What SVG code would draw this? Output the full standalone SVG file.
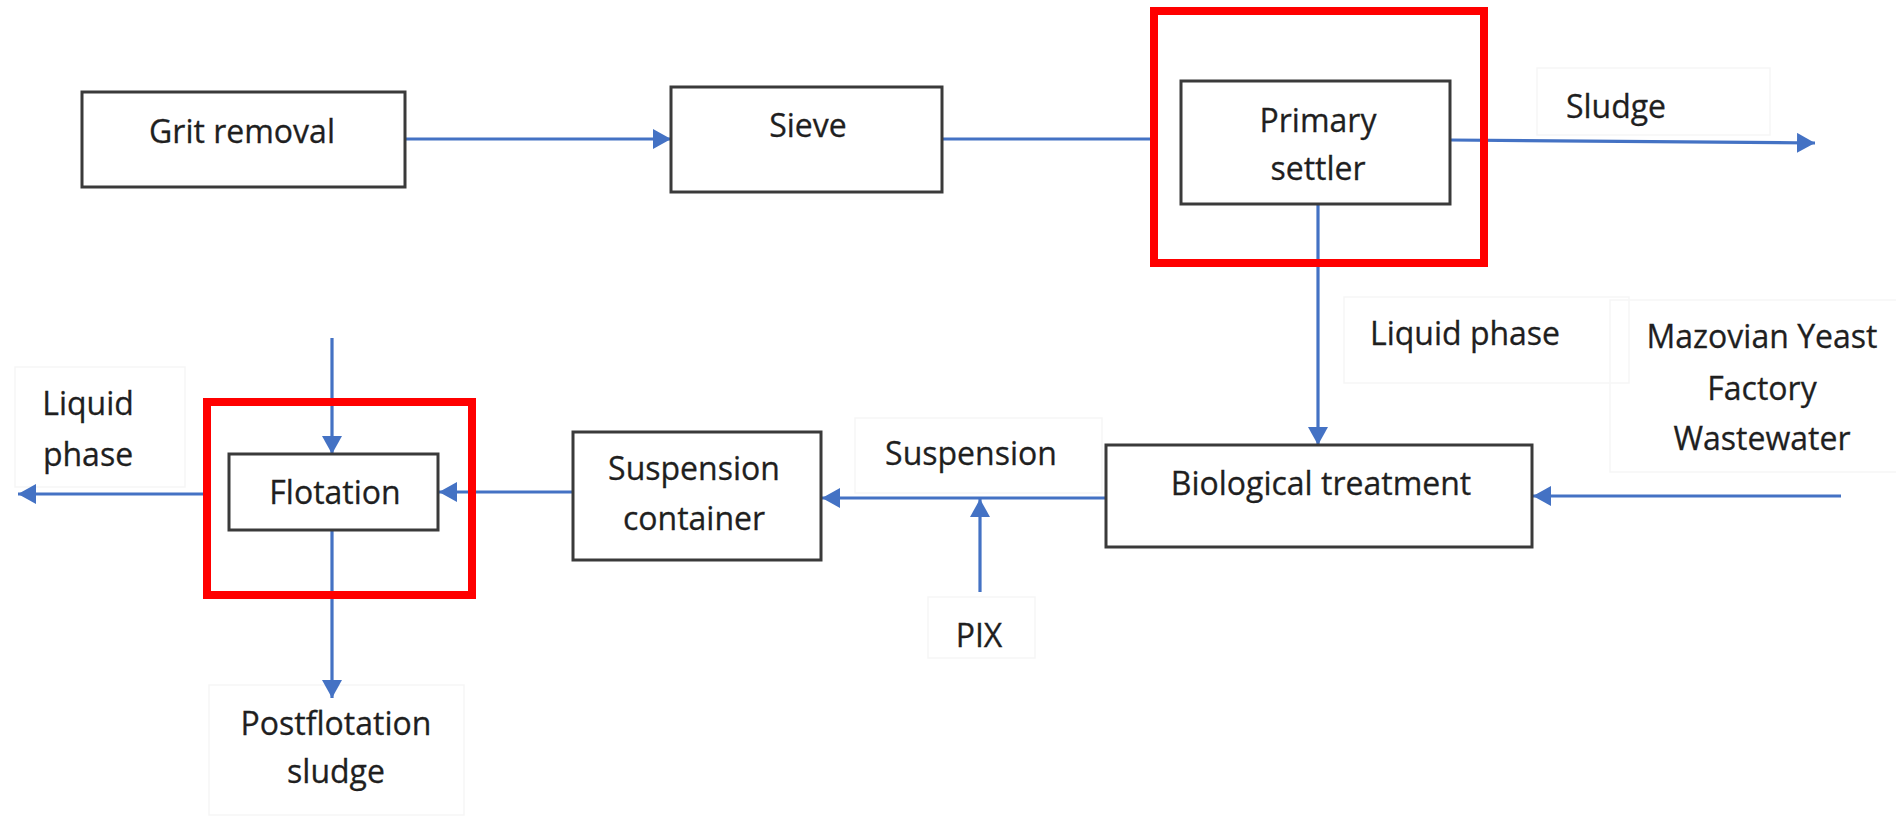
<svg xmlns="http://www.w3.org/2000/svg" width="1896" height="816" viewBox="0 0 1896 816">
  <style>
    .box { fill: #ffffff; stroke: #3a3a3a; stroke-width: 3; }
    .frame { fill: none; stroke: #ff0000; stroke-width: 8; }
    .label-box { fill: none; stroke: #f6f6f6; stroke-width: 1.5; }
    .flow { fill: none; stroke: #4472c4; stroke-width: 3.2; }
    .arrow { marker-end: url(#head); }
    text { font-family: "Open Sans", "Liberation Sans", sans-serif; font-size: 32px; fill: #1f1f1f; stroke: #1f1f1f; stroke-width: 0.3; text-anchor: middle; }
  </style>
  <defs>
    <marker id="head" viewBox="0 0 18 20" refX="18" refY="10" markerWidth="18" markerHeight="20" markerUnits="userSpaceOnUse" orient="auto">
      <path d="M0,0 L18,10 L0,20 Z" fill="#4472c4"/>
    </marker>
  </defs>

  <rect width="1896" height="816" fill="#ffffff"/>

  <!-- light outlines of the free-standing label text boxes -->
  <g id="label-boxes">
    <rect class="label-box" x="1537" y="68" width="233" height="67"/>
    <rect class="label-box" x="1344" y="297" width="285" height="86"/>
    <rect class="label-box" x="1610" y="300" width="290" height="172"/>
    <rect class="label-box" x="855" y="418" width="247" height="75"/>
    <rect class="label-box" x="928" y="597" width="107" height="61"/>
    <rect class="label-box" x="15" y="367" width="170" height="120"/>
    <rect class="label-box" x="209" y="685" width="255" height="130"/>
  </g>

  <!-- flow lines -->
  <g id="connectors">
    <path class="flow arrow" d="M405,139 L671,139"/>
    <path class="flow" d="M942,139 L1150,139"/>
    <path class="flow arrow" d="M1450,140 L1815,143"/>
    <path class="flow arrow" d="M1318,204 L1318,445"/>
    <path class="flow arrow" d="M1841,496 L1533,496"/>
    <path class="flow arrow" d="M1106,498 L822,498"/>
    <path class="flow arrow" d="M980,592 L980,499"/>
    <path class="flow arrow" d="M573,492 L439,492"/>
    <path class="flow arrow" d="M332,338 L332,454"/>
    <path class="flow arrow" d="M332,530 L332,698"/>
    <path class="flow arrow" d="M203,494 L18,494"/>
  </g>

  <g id="grit-removal">
    <rect class="box" x="82" y="92" width="323" height="95"/>
    <text x="242" y="143">Grit removal</text>
  </g>

  <g id="sieve">
    <rect class="box" x="671" y="87" width="271" height="105"/>
    <text x="808" y="137">Sieve</text>
  </g>

  <g id="primary-settler">
    <rect class="frame" x="1154" y="11" width="330" height="252"/>
    <rect class="box" x="1181" y="81" width="269" height="123"/>
    <text x="1318" y="132">Primary</text>
    <text x="1318" y="180">settler</text>
  </g>

  <g id="sludge">
    <text x="1616" y="118">Sludge</text>
  </g>

  <g id="liquid-phase-settler">
    <text x="1465" y="345">Liquid phase</text>
  </g>

  <g id="wastewater">
    <text x="1762" y="348">Mazovian Yeast</text>
    <text x="1762" y="400">Factory</text>
    <text x="1762" y="450">Wastewater</text>
  </g>

  <g id="biological-treatment">
    <rect class="box" x="1106" y="445" width="426" height="102"/>
    <text x="1321" y="495">Biological treatment</text>
  </g>

  <g id="suspension">
    <text x="971" y="465">Suspension</text>
  </g>

  <g id="pix">
    <text x="979" y="647">PIX</text>
  </g>

  <g id="suspension-container">
    <rect class="box" x="573" y="432" width="248" height="128"/>
    <text x="694" y="480">Suspension</text>
    <text x="694" y="530">container</text>
  </g>

  <g id="flotation">
    <rect class="frame" x="207" y="402" width="265" height="193"/>
    <rect class="box" x="229" y="454" width="209" height="76"/>
    <text x="335" y="504">Flotation</text>
  </g>

  <g id="liquid-phase-flotation">
    <text x="88" y="415">Liquid</text>
    <text x="88" y="466">phase</text>
  </g>

  <g id="postflotation-sludge">
    <text x="336" y="735">Postflotation</text>
    <text x="336" y="783">sludge</text>
  </g>
</svg>
